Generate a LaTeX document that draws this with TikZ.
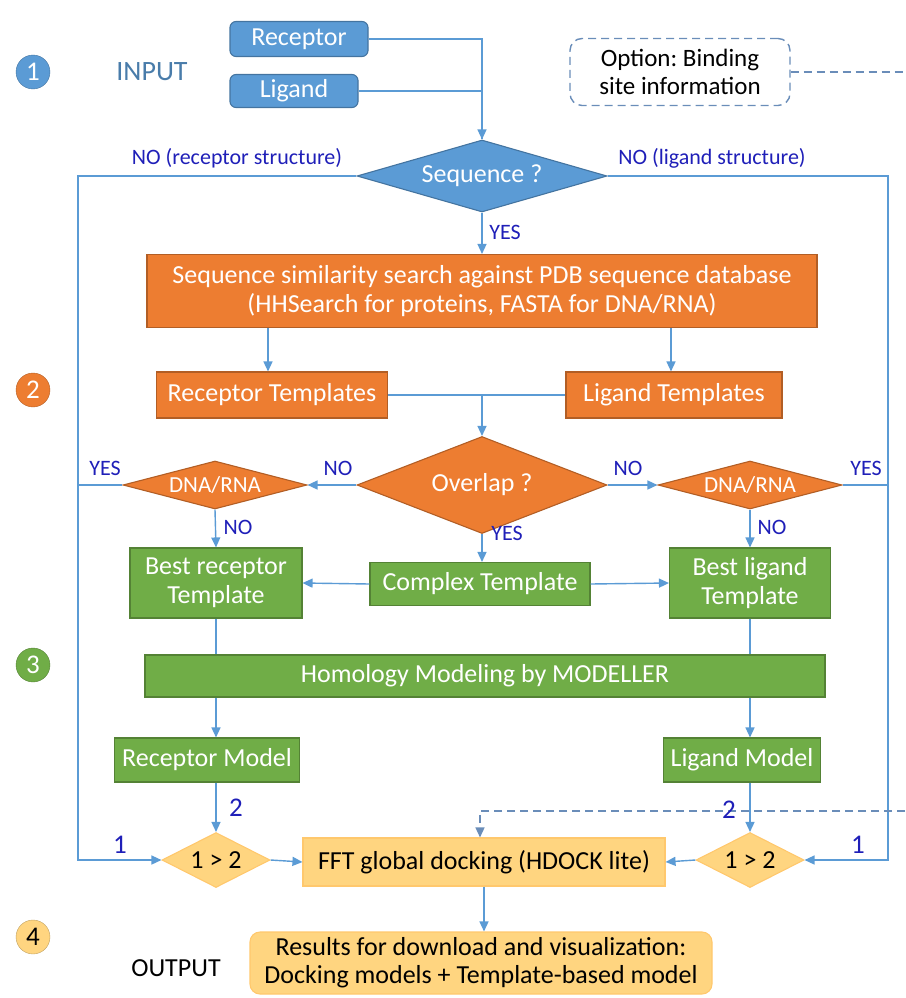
\documentclass[tikz,border=0pt]{standalone}
\usepackage{fontspec}
\setmainfont{Carlito}
\frenchspacing
\usetikzlibrary{shapes.geometric,arrows.meta}
\definecolor{cblue}{HTML}{5B9BD5}
\definecolor{corange}{HTML}{ED7D31}
\definecolor{cgreen}{HTML}{70AD47}
\definecolor{cgold}{HTML}{FFD580}
\definecolor{cline}{HTML}{5B9BD5}
\definecolor{cdash}{HTML}{6A8DB9}
\definecolor{clabel}{HTML}{1F1FB8}
\newcommand{\boxfont}{\fontsize{26}{29}\selectfont}
\newcommand{\lblfont}{\fontsize{22}{24}\selectfont}
\newcommand{\numfont}{\fontsize{27}{30}\selectfont}
\tikzset{
  box/.style={draw=#1!75!black, fill=#1, text=white, line width=1.1pt, inner sep=2pt, align=center, font=\boxfont},
  goldbox/.style={draw=cgold!85!orange, fill=cgold, text=black, line width=1.1pt, inner sep=2pt, align=center, font=\boxfont},
  dia/.style={diamond, draw=#1!75!black, fill=#1, text=white, line width=1.1pt, inner sep=0pt, font=\boxfont},
  golddia/.style={diamond, draw=cgold!85!orange, fill=cgold, text=black, line width=1.1pt, inner sep=0pt, font=\boxfont},
  num/.style={circle, draw=#1!75!black, fill=#1, text=white, minimum width=31pt, minimum height=34pt, inner sep=0pt, font=\numfont},
  lbl/.style={text=clabel, font=\lblfont},
  conn/.style={draw=cline, line width=1.4pt},
  arr/.style={conn, -{Triangle[width=9pt,length=10pt]}},
  dline/.style={draw=cdash, line width=1.4pt, dash pattern=on 8pt off 5pt}
}
\begin{document}
\begin{tikzpicture}[x=1pt, y=-1pt]
    \useasboundingbox (0,0) rectangle (905,998);
    \node[num=cblue] (n1) at (33,72) {1};
    \node[num=corange] (n2) at (33,390) {2};
    \node[num=cgreen] (n3) at (33,665) {3};
    \node[num=cgold, text=black] (n4) at (33,937) {4};
    \node[text=cblue!80!black, font=\fontsize{28}{30}\selectfont] (input) at (152,72) {INPUT};
    \node[font=\boxfont] (output) at (176,968) {OUTPUT};

    \node[box=cblue, rounded corners=6pt, minimum width=138pt, minimum height=35pt] (rec) at (299,39) {Receptor};
    \node[box=cblue, rounded corners=6pt, minimum width=128pt, minimum height=33pt] (lig) at (294,91) {Ligand};
    \node[draw=cdash, line width=1.4pt, dash pattern=on 8pt off 5pt, rounded corners=12pt, minimum width=220pt, minimum height=67pt, align=center, font=\fontsize{25}{28}\selectfont] (opt) at (680,72) {Option: Binding\\site information};
    \node[dia=cblue, aspect=3.47, minimum width=250pt, minimum height=72pt] (seq) at (482,176) {Sequence ?};
    \node[box=corange, minimum width=670pt, minimum height=73pt] (sim) at (482,291) {Sequence similarity search against PDB sequence database\\(HHSearch for proteins, FASTA for DNA/RNA)};
    \node[box=corange, minimum width=231pt, minimum height=46pt] (rtpl) at (272,395) {Receptor Templates};
    \node[box=corange, minimum width=216pt, minimum height=46pt] (ltpl) at (674,395) {Ligand Templates};
    \node[dia=corange, aspect=2.6, minimum width=250pt, minimum height=97pt] (ovl) at (482,485) {Overlap ?};
    \node[dia=corange, aspect=3.83, minimum width=184pt, minimum height=48pt, font=\fontsize{23}{26}\selectfont] (ldna) at (215,485) {DNA/RNA};
    \node[dia=corange, aspect=3.83, minimum width=184pt, minimum height=48pt, font=\fontsize{23}{26}\selectfont] (rdna) at (750,485) {DNA/RNA};
    \node[box=cgreen, minimum width=172pt, minimum height=70pt] (brt) at (216,583) {Best receptor\\Template};
    \node[box=cgreen, minimum width=220pt, minimum height=43pt] (cpx) at (480,584) {Complex Template};
    \node[box=cgreen, minimum width=161pt, minimum height=70pt] (blt) at (750,583) {Best ligand\\Template};
    \node[box=cgreen, minimum width=680pt, minimum height=42pt] (hom) at (485,676) {Homology Modeling by MODELLER};
    \node[box=cgreen, minimum width=185pt, minimum height=44pt] (rmod) at (207,760) {Receptor Model};
    \node[box=cgreen, minimum width=157pt, minimum height=44pt] (lmod) at (742,760) {Ligand Model};
    \node[golddia, aspect=2, minimum width=108pt, minimum height=55pt] (lcmp) at (216,860) {1 > 2};
    \node[golddia, aspect=2, minimum width=108pt, minimum height=55pt] (rcmp) at (750,860) {1 > 2};
    \node[goldbox, minimum width=362pt, minimum height=48pt] (fft) at (484,862) {FFT global docking (HDOCK lite)};
    \node[goldbox, rounded corners=10pt, minimum width=462pt, minimum height=62pt, inner sep=0pt, font=\fontsize{26}{28}\selectfont] (res) at (481,963) {Results for download and visualization:\\Docking models + Template-based model};

    \coordinate (lbus) at (78,176);
    \coordinate (rbus) at (888,176);
    \coordinate (edgetop) at (905,72);
    \coordinate (edgelow) at (905,811);

    \draw[conn] (rec.east) -| (seq.north);
    \draw[arr] (lig.east) -| (seq.north);
    \draw[dline] (opt.east) -- (edgetop);
    \draw[arr] (seq.west) -- (seq.west -| lbus) |- (lcmp.west);
    \draw[arr] (seq.east) -- (seq.east -| rbus) |- (rcmp.east);
    \draw[arr] (seq.south) -- (sim.north);
    \draw[arr] (sim.south -| 268,0) -- (rtpl.north -| 268,0);
    \draw[arr] (sim.south -| 671,0) -- (ltpl.north -| 671,0);
    \draw[conn] (rtpl.east) -- (ltpl.west);
    \draw[arr] (rtpl.east -| ovl.north) -- (ovl.north);
    \draw[arr] (ovl.west) -- (ldna.east);
    \draw[arr] (ovl.east) -- (rdna.west);
    \draw[conn] (ldna.west) -- (ldna.west -| lbus);
    \draw[conn] (rdna.east) -- (rdna.east -| rbus);
    \draw[arr] (ldna.south) -- (brt.north);
    \draw[arr] (rdna.south) -- (blt.north);
    \draw[arr] (ovl.south) -- (cpx.north -| ovl.south);
    \draw[arr] (cpx.west) -- (brt.east);
    \draw[arr] (cpx.east) -- (blt.east -| blt.west);
    \draw[conn] (brt.south) -- (hom.north -| brt.south);
    \draw[conn] (blt.south) -- (hom.north -| blt.south);
    \draw[arr] (hom.south -| brt.south) -- (rmod.north -| brt.south);
    \draw[arr] (hom.south -| blt.south) -- (lmod.north -| blt.south);
    \draw[arr] (rmod.south -| lcmp.north) -- (lcmp.north);
    \draw[arr] (lmod.south -| rcmp.north) -- (rcmp.north);
    \draw[arr] (lcmp.east) -- (fft.west);
    \draw[arr] (rcmp.west) -- (fft.east);
    \draw[dline, -{Triangle[width=9pt,length=10pt]}, cdash] (edgelow) -| (fft.north -| 480,0);
    \draw[arr] (fft.south) -- (res.north -| fft.south);

    \node[lbl] (norec) at (237,158) {NO (receptor structure)};
    \node[lbl] (nolig) at (712,158) {NO (ligand structure)};
    \node[lbl] (yseq) at (505,232) {YES};
    \node[lbl] (yl) at (105,468) {YES};
    \node[lbl] (nl) at (338,468) {NO};
    \node[lbl] (nr) at (628,468) {NO};
    \node[lbl] (yr) at (866,468) {YES};
    \node[lbl] (nld) at (238,527) {NO};
    \node[lbl] (yovl) at (507,533) {YES};
    \node[lbl] (nrd) at (772,527) {NO};
    \node[lbl, font=\numfont] (two1) at (236,808) {2};
    \node[lbl, font=\numfont] (two2) at (729,810) {2};
    \node[lbl, font=\numfont] (one1) at (120,845) {1};
    \node[lbl, font=\numfont] (one2) at (858,845) {1};
\end{tikzpicture}
\end{document}
